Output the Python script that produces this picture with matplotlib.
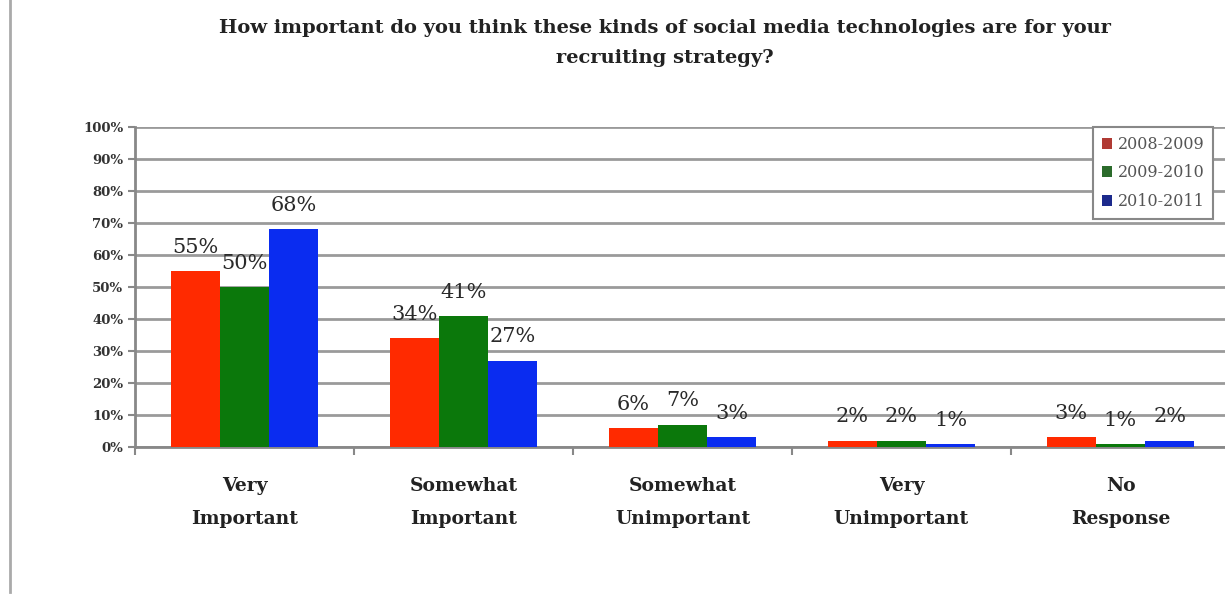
import numpy as np
import matplotlib.pyplot as plt
from matplotlib.lines import Line2D
from matplotlib.patches import Patch

categories = ['Very\nImportant', 'Somewhat\nImportant', 'Somewhat\nUnimportant',
              'Very\nUnimportant', 'No\nResponse']
series_names = ['2008-2009', '2009-2010', '2010-2011']
v2008 = [55, 34, 6, 2, 3]
v2009 = [50, 41, 7, 2, 1]
v2010 = [68, 27, 3, 1, 2]
colors = ['#ff2a00', '#0b780b', '#0a2cf0']
legend_colors = ['#b03a34', '#2b6b2b', '#1c2a8c']

title = ('How important do you think these kinds of social media technologies are for your\n'
         'recruiting strategy?')

serif = ['DejaVu Serif']

fig = plt.figure(figsize=(12.25, 5.95), dpi=100)
ax = fig.add_axes([135 / 1225, 1 - 447 / 595, 1095 / 1225, 320 / 595])

x = np.arange(len(categories)) + 0.5
w = 0.225
for i, vals in enumerate([v2008, v2009, v2010]):
    pos = x + (i - 1) * w
    ax.bar(pos, vals, width=w, color=colors[i], zorder=3)
    for p, v in zip(pos, vals):
        ax.annotate('%d%%' % v, (p, v), xytext=(0, 17), textcoords='offset points',
                    ha='center', va='center', fontsize=15, family=serif,
                    color='#2a2a2a', zorder=4)

ax.set_xlim(0, 5)
ax.set_ylim(0, 100)
ax.set_yticks(np.arange(0, 101, 10))
ax.set_yticklabels(['%d%%' % t for t in range(0, 101, 10)], fontsize=9.5,
                   fontweight='bold', family=serif, color='#333333')
ax.yaxis.grid(True, color='#9a9a9a', linewidth=2, zorder=0)
ax.tick_params(axis='y', length=5, color='#888888', width=1.5)

# category boundary ticks on the x axis
ax.set_xticks(np.arange(0, 6))
ax.set_xticklabels([])
ax.tick_params(axis='x', length=6, color='#888888', width=1.5, direction='out')
for xi, lab in zip(x, categories):
    ax.text(xi, -9.5, lab, ha='center', va='top', fontsize=13.5, fontweight='bold',
            family=serif, color='#222222', linespacing=2.05)

for s in ['top', 'right']:
    ax.spines[s].set_visible(False)
for s in ['left', 'bottom']:
    ax.spines[s].set_color('#888888')
    ax.spines[s].set_linewidth(2)

handles = [Patch(facecolor=c, label=n) for c, n in zip(legend_colors, series_names)]
leg = ax.legend(handles=handles, loc='upper left', bbox_to_anchor=(958 / 1095, 1.0),
                prop={'family': serif, 'size': 11.5}, handlelength=0.65, handleheight=0.65,
                handletextpad=0.35, labelspacing=0.72, fancybox=False, borderpad=0.55,
                borderaxespad=0, framealpha=1)
leg.get_frame().set_edgecolor('#888888')
leg.get_frame().set_linewidth(1.5)
for t in leg.get_texts():
    t.set_color('#555555')

fig.text(665 / 1225, 1 - 43 / 595, title, ha='center', va='center', fontsize=14,
         fontweight='bold', family=serif, color='#222222', linespacing=1.85)

fig.add_artist(Line2D([10 / 1225, 10 / 1225], [0.005, 1], color='#aaaaaa', linewidth=2,
                      transform=fig.transFigure))

fig.savefig('out.png', dpi=100, facecolor='white')
